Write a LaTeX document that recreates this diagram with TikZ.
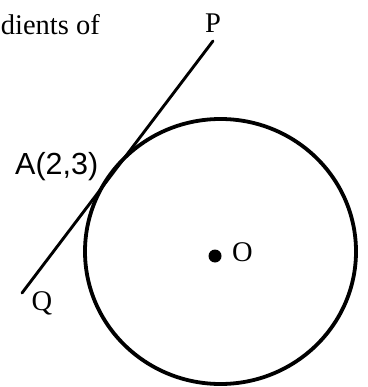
\documentclass[tikz,border=0pt]{standalone}
\usepackage{fontspec}
\setmainfont{Liberation Serif}
\newfontfamily\arialfont{Liberation Sans}

\begin{document}
\begin{tikzpicture}[x=1pt,y=-1pt,line cap=round,line join=round,
  lbl/.style={font=\fontsize{28.5}{30}\selectfont,inner sep=0pt},
  albl/.style={font=\arialfont\fontsize{30.5}{32}\selectfont,inner sep=0pt}]
  \useasboundingbox (0,0) rectangle (367,387);
  \coordinate (ctr) at (220.5,251.5);
  \coordinate (O) at (215,256);
  \coordinate (P) at (213,41);
  \coordinate (Q) at (22,293);
  \draw[line width=3.8pt] (ctr) ellipse (135.5 and 132.5);
  \draw[line width=2.9pt] (Q)--(P);
  \fill (O) circle (6.5);
  \node[lbl,anchor=base east] (txt) at (100,35) {dients of};
  \node[lbl,anchor=base] (Plbl) at (213,33) {P};
  \node[lbl,anchor=base west] (Olbl) at (232,261) {O};
  \node[lbl,anchor=base] (Qlbl) at (42,310) {Q};
  \node[albl,anchor=base west] (Albl) at (15,175) {A(2,3)};
\end{tikzpicture}
\end{document}
